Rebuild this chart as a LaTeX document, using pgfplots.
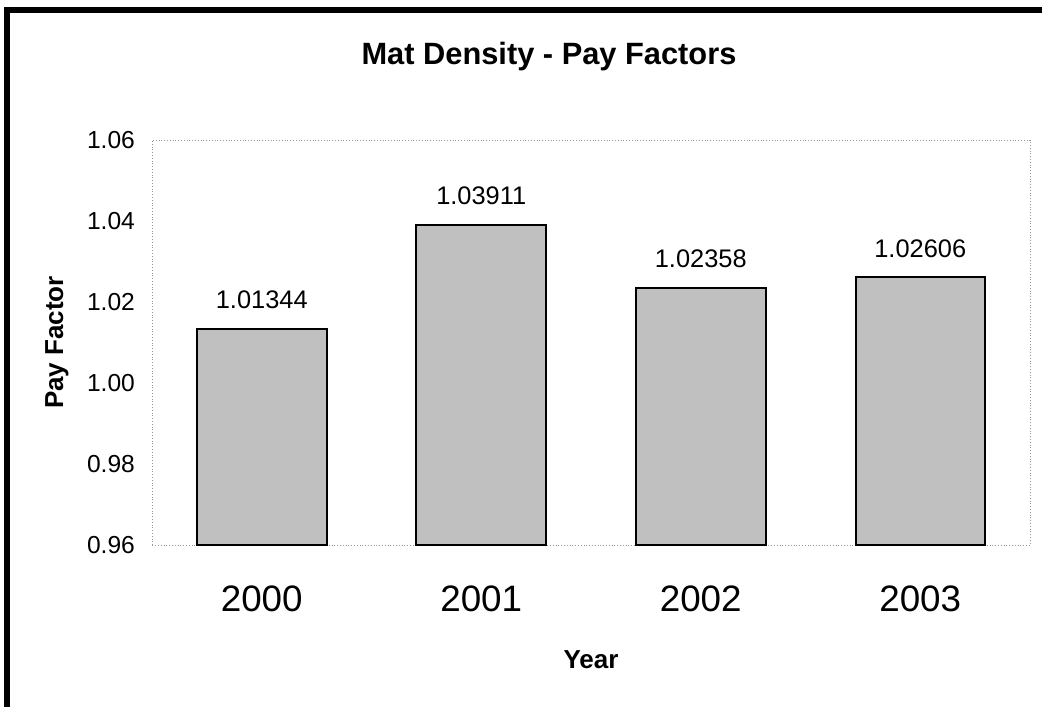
\documentclass[border=0pt]{standalone}
\usepackage{pgfplots}
\pgfplotsset{compat=1.18}
\usepackage{fontspec}
\setmainfont{Liberation Sans}

\definecolor{barfill}{RGB}{192,192,192}
\definecolor{frame}{RGB}{150,150,150}

\begin{document}
\begin{tikzpicture}
\begin{axis}[
    at={(0,0)}, anchor=south west,
    scale only axis,
    width=439pt, height=202.5pt,
    xmin=-0.5, xmax=3.5,
    ymin=0.96, ymax=1.06,
    ytick={0.96,0.98,1.00,1.02,1.04,1.06},
    xtick={0,1,2,3},
    xticklabels={2000,2001,2002,2003},
    major tick length=0pt,
    axis line style={frame, densely dotted},
    /pgf/number format/assume math mode=true,
    yticklabel style={/pgf/number format/fixed, /pgf/number format/fixed zerofill, /pgf/number format/precision=2,
        font=\fontsize{12.3}{14}\selectfont, xshift=-5pt},
    xticklabel style={font=\fontsize{18.4}{20}\selectfont, yshift=-17pt},
    ylabel={\textbf{Pay Factor}},
    ylabel style={font=\fontsize{13}{15}\selectfont, at={(rel axis cs:0,0.5)}, anchor=center, yshift=47.5pt},
    xlabel={\textbf{Year}},
    xlabel style={font=\fontsize{13}{15}\selectfont, at={(rel axis cs:0.5,0)}, anchor=center, yshift=-57.5pt},
    ybar, bar width=0.59,
    nodes near coords,
    nodes near coords style={font=\fontsize{12.7}{14}\selectfont, /pgf/number format/fixed, /pgf/number format/fixed zerofill, /pgf/number format/precision=5, yshift=6pt},
    clip=false,
]
\addplot[fill=barfill, draw=black, line width=1pt] coordinates {
    (0,1.01344) (1,1.03911) (2,1.02358) (3,1.02606)
};
\end{axis}
\node[font=\bfseries\fontsize{15.4}{17}\selectfont] at (198.5pt,244pt) {Mat Density - Pay Factors};
\draw[line width=3pt] (-72.5pt,-81pt) -- (-72.5pt,267.5pt) -- (445pt,267.5pt);
\pgfresetboundingbox
\path[use as bounding box] (-76pt,-81pt) rectangle (445pt,272.5pt);
\end{tikzpicture}
\end{document}
